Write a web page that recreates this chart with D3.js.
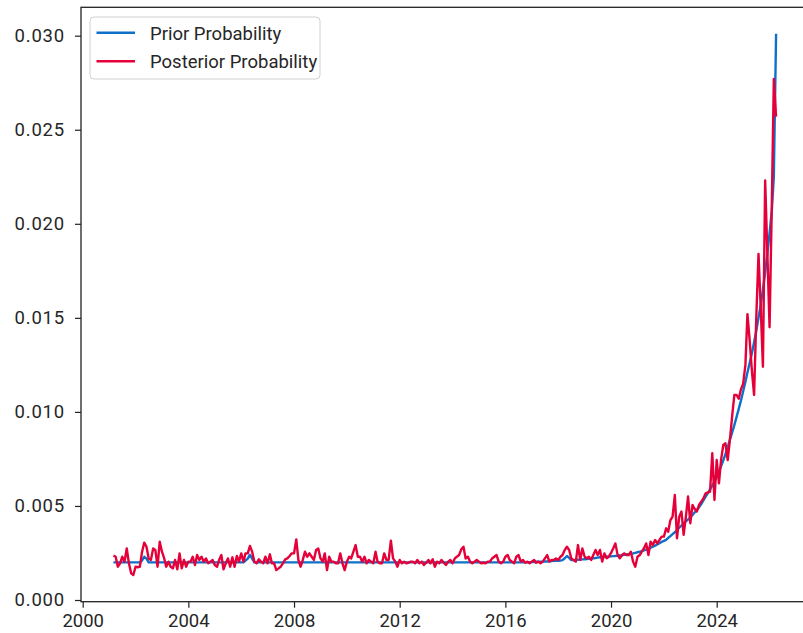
<!DOCTYPE html>
<html>
<head>
<meta charset="utf-8">
<script src="https://cdn.jsdelivr.net/npm/d3@7"></script>
<style>
  html, body { margin: 0; padding: 0; background: #fff; }
  svg { display: block; }
  text { font-family: Roboto, "Open Sans", sans-serif; fill: #262626; }
</style>
</head>
<body>
<svg id="chart" width="803" height="633"></svg>
<script>
// ---- data (monthly, starting March 2001) ----
const startYear = 2001, startMonth = 2; // March (0-based month)
const xTickYears = [2000, 2004, 2008, 2012, 2016, 2020, 2024];
const yTickValues = [0.000, 0.005, 0.010, 0.015, 0.020, 0.025, 0.030];
const seriesNames = ["Prior Probability", "Posterior Probability"];

const prior = [
  0.0020,0.0020,0.0020,0.0020,0.0020,0.0020,0.0020,0.0020,0.0020,0.0020,
  0.0020,0.0020,0.0020,0.0021,0.0023,0.0022,0.0020,0.0020,0.0020,0.0020,
  0.0020,0.0020,0.0020,0.0020,0.0020,0.0020,0.0020,0.0020,0.0020,0.0020,
  0.0020,0.0020,0.0020,0.0020,0.0020,0.0020,0.0020,0.0020,0.0020,0.0020,
  0.0020,0.0020,0.0020,0.0020,0.0020,0.0020,0.0020,0.0020,0.0020,0.0020,
  0.0020,0.0020,0.0020,0.0020,0.0020,0.0020,0.0020,0.0020,0.0020,0.0020,
  0.0021,0.0022,0.0024,0.0022,0.0020,0.0020,0.0020,0.0020,0.0020,0.0020,
  0.0020,0.0020,0.0020,0.0020,0.0020,0.0020,0.0020,0.0020,0.0020,0.0020,
  0.0020,0.0020,0.0020,0.0020,0.0020,0.0020,0.0020,0.0020,0.0020,0.0020,
  0.0020,0.0020,0.0020,0.0020,0.0020,0.0020,0.0020,0.0020,0.0020,0.0020,
  0.0020,0.0020,0.0020,0.0020,0.0020,0.0020,0.0020,0.0020,0.0020,0.0020,
  0.0020,0.0020,0.0020,0.0020,0.0020,0.0020,0.0020,0.0020,0.0020,0.0020,
  0.0020,0.0020,0.0020,0.0020,0.0020,0.0020,0.0020,0.0020,0.0020,0.0020,
  0.0020,0.0020,0.0020,0.0020,0.0020,0.0020,0.0020,0.0020,0.0020,0.0020,
  0.0020,0.0020,0.0020,0.0020,0.0020,0.0020,0.0020,0.0020,0.0020,0.0020,
  0.0020,0.0020,0.0020,0.0020,0.0020,0.0020,0.0020,0.0020,0.0020,0.0020,
  0.0020,0.0020,0.0020,0.0020,0.0020,0.0020,0.0020,0.0020,0.0020,0.0020,
  0.0020,0.0020,0.0020,0.0020,0.0020,0.0020,0.0020,0.0020,0.0020,0.0020,
  0.0020,0.0020,0.0020,0.0020,0.0020,0.0020,0.0020,0.0020,0.0020,0.00201,
  0.00202,0.00202,0.00203,0.00203,0.00204,0.00204,0.00205,0.00205,0.00206,0.00207,
  0.00208,0.00208,0.00209,0.00210,0.00212,0.00222,0.00234,0.00224,0.00212,0.00212,
  0.00213,0.00214,0.00215,0.00216,0.00217,0.00218,0.00219,0.00220,0.00222,0.00223,
  0.00225,0.00227,0.00228,0.00229,0.00230,0.00231,0.00232,0.00233,0.00234,0.00235,
  0.00237,0.00238,0.00240,0.00242,0.00244,0.00246,0.00248,0.00251,0.00254,0.00257,
  0.00260,0.00264,0.00268,0.00273,0.00278,0.00283,0.00289,0.00295,0.00302,0.00309,
  0.00314,0.00320,0.00330,0.00340,0.00350,0.00360,0.00372,0.00384,0.00396,0.00408,
  0.00418,0.00428,0.00440,0.00452,0.00465,0.00478,0.00492,0.00510,0.00530,0.00550,
  0.00568,0.00588,0.00608,0.00630,0.00654,0.00680,0.00710,0.00742,0.00776,0.00812,
  0.00851,0.00890,0.00930,0.00972,0.01016,0.01060,0.01110,0.01160,0.01210,0.01260,
  0.01310,0.01370,0.01430,0.01500,0.01570,0.01650,0.01740,0.01840,0.01950,0.02070,
  0.02250,0.03010
];

const posterior = [
  0.00236,0.00230,0.00177,0.00195,0.00230,0.00204,0.00274,0.00195,0.00142,0.00133,
  0.00177,0.00174,0.00177,0.00257,0.00305,0.00283,0.00221,0.00213,0.00274,0.00266,
  0.00177,0.00310,0.00257,0.00221,0.00177,0.00204,0.00177,0.00168,0.00213,0.00163,
  0.00248,0.00168,0.00213,0.00177,0.00204,0.00204,0.00230,0.00186,0.00239,0.00213,
  0.00230,0.00204,0.00221,0.00195,0.00204,0.00213,0.00186,0.00177,0.00213,0.00239,
  0.00163,0.00195,0.00221,0.00177,0.00227,0.00177,0.00234,0.00204,0.00248,0.00204,
  0.00248,0.00248,0.00287,0.00257,0.00204,0.00195,0.00216,0.00204,0.00195,0.00230,
  0.00195,0.00243,0.00195,0.00195,0.00159,0.00168,0.00177,0.00195,0.00216,0.00221,
  0.00234,0.00248,0.00248,0.00322,0.00213,0.00177,0.00213,0.00257,0.00230,0.00248,
  0.00230,0.00213,0.00266,0.00274,0.00221,0.00204,0.00248,0.00159,0.00230,0.00204,
  0.00204,0.00195,0.00195,0.00248,0.00195,0.00159,0.00204,0.00230,0.00221,0.00257,
  0.00292,0.00230,0.00230,0.00204,0.00230,0.00195,0.00213,0.00204,0.00195,0.00257,
  0.00204,0.00195,0.00195,0.00248,0.00213,0.00213,0.00315,0.00221,0.00204,0.00177,
  0.00213,0.00195,0.00204,0.00195,0.00198,0.00204,0.00204,0.00195,0.00213,0.00195,
  0.00204,0.00186,0.00198,0.00213,0.00195,0.00216,0.00177,0.00204,0.00195,0.00213,
  0.00198,0.00186,0.00204,0.00213,0.00195,0.00221,0.00230,0.00239,0.00269,0.00283,
  0.00221,0.00230,0.00204,0.00195,0.00204,0.00213,0.00204,0.00195,0.00198,0.00195,
  0.00204,0.00204,0.00221,0.00230,0.00239,0.00204,0.00195,0.00204,0.00230,0.00239,
  0.00213,0.00204,0.00195,0.00230,0.00239,0.00204,0.00213,0.00198,0.00204,0.00195,
  0.00204,0.00213,0.00198,0.00204,0.00195,0.00204,0.00221,0.00239,0.00204,0.00213,
  0.00213,0.00221,0.00213,0.00230,0.00239,0.00266,0.00283,0.00266,0.00221,0.00213,
  0.00204,0.00292,0.00213,0.00274,0.00230,0.00221,0.00230,0.00213,0.00239,0.00266,
  0.00239,0.00266,0.00204,0.00248,0.00222,0.00230,0.00250,0.00275,0.00301,0.00240,
  0.00222,0.00239,0.00248,0.00239,0.00239,0.00257,0.00204,0.00177,0.00230,0.00239,
  0.00257,0.00275,0.00301,0.00239,0.00310,0.00292,0.00319,0.00301,0.00320,0.00337,
  0.00337,0.00381,0.00363,0.00425,0.00443,0.00558,0.00328,0.00443,0.00470,0.00346,
  0.00443,0.00550,0.00408,0.00505,0.00485,0.00470,0.00505,0.00523,0.00540,0.00567,
  0.00572,0.00576,0.00780,0.00532,0.00744,0.00620,0.00744,0.00824,0.00833,0.00744,
  0.00850,0.00975,0.01090,0.01090,0.01070,0.01120,0.01150,0.01250,0.01520,0.01380,
  0.01220,0.01090,0.01500,0.01840,0.01550,0.01240,0.02230,0.01850,0.01450,0.02100,
  0.02770,0.02570
];

// ---- layout ----
const svg = d3.select("#chart");
const plotL = 81, plotR = 810, plotT = 7.3, plotB = 601.7;

const dates = prior.map((_, i) => new Date(startYear, startMonth + i, 1));

const x = d3.scaleTime()
  .domain([new Date(2000, 0, 1), new Date(2024, 0, 1)])
  .range([82.7, 716.7]);
const y = d3.scaleLinear()
  .domain([0, 0.030])
  .range([600, 35.7]);

svg.append("defs").append("clipPath").attr("id", "clip")
  .append("rect").attr("x", plotL).attr("y", plotT)
  .attr("width", plotR - plotL).attr("height", plotB - plotT);

const line = d3.line()
  .x((d, i) => x(dates[i]))
  .y(d => y(d));

const colors = ["#0f70c8", "#e5003a"];

const plot = svg.append("g").attr("clip-path", "url(#clip)");
plot.append("path").datum(prior)
  .attr("d", line).attr("fill", "none")
  .attr("stroke", colors[0]).attr("stroke-width", 2.4)
  .attr("stroke-linejoin", "round").attr("stroke-linecap", "butt");
plot.append("path").datum(posterior)
  .attr("d", line).attr("fill", "none")
  .attr("stroke", colors[1]).attr("stroke-width", 2.4)
  .attr("stroke-linejoin", "round").attr("stroke-linecap", "butt");

// ---- axes ----
const fontSize = 18.5;
const xAxis = d3.axisBottom(x)
  .tickValues(xTickYears.map(yr => new Date(yr, 0, 1)))
  .tickFormat(d3.timeFormat("%Y"))
  .tickSize(6).tickPadding(5).tickSizeOuter(0);
const gx = svg.append("g").attr("transform", `translate(0,${plotB})`).call(xAxis);
gx.select(".domain").remove();
gx.selectAll(".tick line").attr("stroke", "#222").attr("stroke-width", 1.2);
gx.selectAll(".tick text").attr("font-size", fontSize)
  .attr("font-family", "Roboto, sans-serif").attr("fill", "#2a2a2a").attr("dy", "0.78em");

const yAxis = d3.axisLeft(y)
  .tickValues(yTickValues)
  .tickFormat(d3.format(".3f"))
  .tickSize(6).tickPadding(10).tickSizeOuter(0);
const gy = svg.append("g").attr("transform", `translate(${plotL},0)`).call(yAxis);
gy.select(".domain").remove();
gy.selectAll(".tick line").attr("stroke", "#222").attr("stroke-width", 1.2);
gy.selectAll(".tick text").attr("font-size", fontSize)
  .attr("font-family", "Roboto, sans-serif").attr("fill", "#2a2a2a")
  .attr("letter-spacing", "0.8px");

// spines
svg.append("rect")
  .attr("x", plotL).attr("y", plotT)
  .attr("width", plotR - plotL).attr("height", plotB - plotT)
  .attr("fill", "none").attr("stroke", "#222").attr("stroke-width", 1.3);

// ---- legend ----
const lg = svg.append("g");
lg.append("rect")
  .attr("x", 90).attr("y", 17).attr("width", 230).attr("height", 62)
  .attr("rx", 4).attr("fill", "#fff").attr("fill-opacity", 0.8)
  .attr("stroke", "#d0d0d0").attr("stroke-width", 1);
seriesNames.forEach((name, k) => {
  const cy = 32.7 + k * 28.6;
  lg.append("line").attr("x1", 96.5).attr("x2", 135).attr("y1", cy).attr("y2", cy)
    .attr("stroke", colors[k]).attr("stroke-width", 2.4);
  lg.append("text").attr("x", 150).attr("y", cy + 6.8)
    .attr("font-size", fontSize).attr("fill", "#2a2a2a").text(name);
});
</script>
</body>
</html>
